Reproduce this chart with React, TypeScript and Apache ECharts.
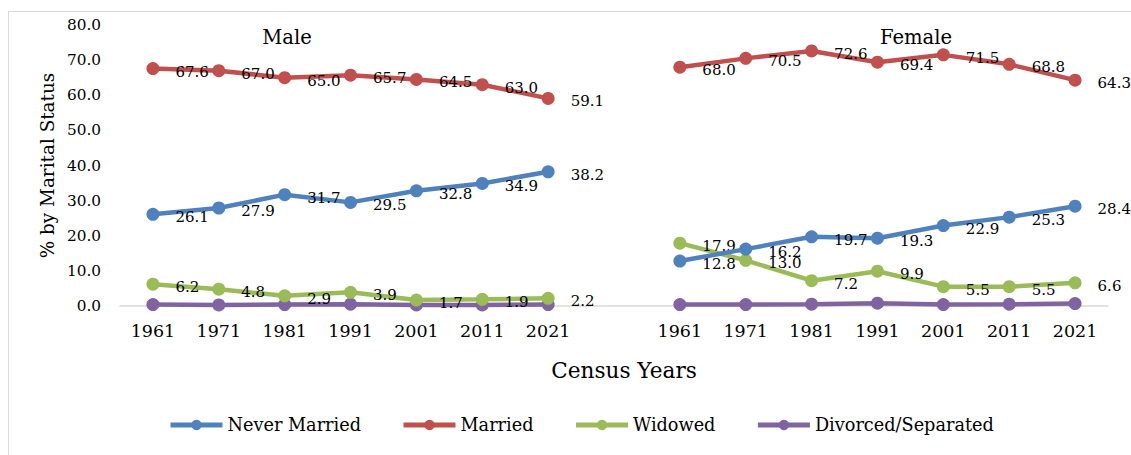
import React, { useEffect, useRef } from "react";
import * as echarts from "echarts";

const years = ["1961", "1971", "1981", "1991", "2001", "2011", "2021"];
const seriesNames = ["Never Married", "Married", "Widowed", "Divorced/Separated"];
const colors = ["#4f81bd", "#c0504d", "#9bbb59", "#8064a2"];

const maleNeverMarried = [26.1, 27.9, 31.7, 29.5, 32.8, 34.9, 38.2];
const maleMarried = [67.6, 67.0, 65.0, 65.7, 64.5, 63.0, 59.1];
const maleWidowed = [6.2, 4.8, 2.9, 3.9, 1.7, 1.9, 2.2];
const maleDivorced = [0.4, 0.3, 0.4, 0.5, 0.3, 0.3, 0.4];

const femaleNeverMarried = [12.8, 16.2, 19.7, 19.3, 22.9, 25.3, 28.4];
const femaleMarried = [68.0, 70.5, 72.6, 69.4, 71.5, 68.8, 64.3];
const femaleWidowed = [17.9, 13.0, 7.2, 9.9, 5.5, 5.5, 6.6];
const femaleDivorced = [0.4, 0.4, 0.5, 0.8, 0.4, 0.5, 0.7];

const showLabels = [true, true, true, false];

const FONT = "DejaVu Serif";

export default function App() {
  const ref = useRef<HTMLDivElement>(null);
  useEffect(() => {
    if (!ref.current) return;
    const chart = echarts.init(ref.current, null, { renderer: "svg" });
    const categories = [...years, "", ...years];
    const male = [maleNeverMarried, maleMarried, maleWidowed, maleDivorced];
    const female = [femaleNeverMarried, femaleMarried, femaleWidowed, femaleDivorced];
    const series = seriesNames.map((name, i) => ({
      name,
      type: "line",
      data: [...male[i], null, ...female[i]],
      connectNulls: false,
      symbol: "circle",
      symbolSize: 13,
      color: colors[i],
      lineStyle: { width: 4.5, color: colors[i] },
      itemStyle: { color: colors[i] },
      label: {
        show: showLabels[i],
        position: "right",
        distance: 16,
        offset: [0, 3],
        color: "#000",
        fontFamily: FONT,
        fontSize: 15,
        formatter: (p: any) => (p.value == null ? "" : Number(p.value).toFixed(1)),
      },
      emphasis: { disabled: true },
      z: 10 - i,
    }));
    chart.setOption({
      animation: false,
      backgroundColor: "#fff",
      textStyle: { fontFamily: FONT },
      grid: { left: 120, right: 23, top: 25, bottom: 149, containLabel: false },
      xAxis: {
        type: "category",
        data: categories,
        boundaryGap: true,
        axisLine: { show: true, lineStyle: { color: "#d9d9d9", width: 1.5 } },
        axisTick: { show: false },
        axisLabel: { fontFamily: FONT, fontSize: 17.5, color: "#000", margin: 16, interval: 0 },
      },
      yAxis: {
        type: "value",
        min: 0,
        max: 80,
        interval: 10,
        name: "% by Marital Status",
        nameLocation: "middle",
        nameGap: 64,
        nameTextStyle: { fontFamily: FONT, fontSize: 18.4, color: "#000" },
        axisLine: { show: false },
        axisTick: { show: false },
        splitLine: { show: false },
        axisLabel: {
          fontFamily: FONT,
          fontSize: 15.3,
          color: "#000",
          margin: 19,
          formatter: (v: number) => v.toFixed(1),
        },
      },
      legend: {
        data: seriesNames,
        left: 168,
        top: 416,
        padding: 0,
        itemWidth: 52,
        itemHeight: 13,
        itemGap: 40,
        lineStyle: { width: 5 },
        textStyle: { fontFamily: FONT, fontSize: 17.7, color: "#000" },
      },
      graphic: [
        {
          type: "rect",
          shape: { x: 8.5, y: 11.5, width: 1140, height: 470 },
          style: { fill: "none", stroke: "#d9d9d9", lineWidth: 1 },
          silent: true,
        },
        {
          type: "text",
          x: 287,
          y: 37,
          style: { text: "Male", fontFamily: FONT, fontSize: 19.6, fill: "#000", align: "center", verticalAlign: "middle" },
        },
        {
          type: "text",
          x: 916,
          y: 37,
          style: { text: "Female", fontFamily: FONT, fontSize: 19.6, fill: "#000", align: "center", verticalAlign: "middle" },
        },
        {
          type: "text",
          x: 624,
          y: 370,
          style: { text: "Census Years", fontFamily: FONT, fontSize: 21.6, fill: "#000", align: "center", verticalAlign: "middle" },
        },
      ],
      series,
    });
    return () => chart.dispose();
  }, []);
  return (
    <div
      ref={ref}
      style={{ position: "fixed", left: 0, top: 0, width: 1131, height: 455, background: "#fff" }}
    />
  );
}
